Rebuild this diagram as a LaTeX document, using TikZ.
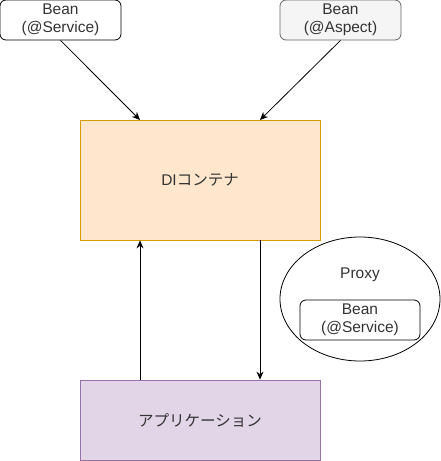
\documentclass[tikz,border=0pt]{standalone}
\usepackage{fontspec}
\setmainfont{Liberation Sans}
\newfontfamily\jpfont{Noto Sans CJK JP}
\usetikzlibrary{shapes.geometric,arrows.meta}
\definecolor{diFill}{HTML}{FFE6CC}
\definecolor{diLine}{HTML}{D79B00}
\definecolor{apFill}{HTML}{E1D5E7}
\definecolor{apLine}{HTML}{9673A6}
\definecolor{asFill}{HTML}{F5F5F5}
\definecolor{asLine}{HTML}{666666}
\definecolor{asText}{HTML}{333333}
\tikzset{
  every node/.style={line width=0.8pt},
  txt/.style={font=\fontsize{15.5}{18.5}\selectfont, text=black!80},
  bean/.style={txt, draw=black, rounded corners=6pt, minimum width=121pt, minimum height=40pt, inner sep=0pt, align=center},
  bigbox/.style={minimum width=240pt, inner sep=0pt, font=\fontsize{15.5}{18.5}\selectfont, text=black!80},
  conn/.style={-{Stealth[length=8pt,width=7pt]}, line width=0.8pt},
}
\begin{document}
\begin{tikzpicture}[x=1pt,y=-1pt]
\useasboundingbox (0,0) rectangle (441,461);
\node[bean] (svc) at (60.5,20) {Bean\\(@Service)};
\node[bean, fill=asFill, draw=asLine, text=asText] (asp) at (340.5,20) {Bean\\(@Aspect)};
\node[bigbox, draw=diLine, fill=diFill, minimum height=120pt] (di) at (200,180) {DI{\jpfont コンテナ}};
\node[bigbox, draw=apLine, fill=apFill, minimum height=80pt] (app) at (200,420) {\jpfont アプリケーション};
\node[ellipse, draw=black, minimum width=160pt, minimum height=124pt, inner sep=0pt] (proxy) at (360,299) {};
\node[txt] (ptxt) at (360,275) {Proxy};
\node[bean, minimum width=120pt] (inner) at (360,320) {Bean\\(@Service)};
\coordinate (diTL) at (140,120);
\coordinate (diTR) at (260,120);
\draw[conn] (svc.south) -- (140,120);
\draw[conn] (asp.south) -- (260,120);
\draw[conn] (app.north -| diTL) -- (di.south -| diTL);
\draw[conn] (di.south -| diTR) -- (app.north -| diTR);
\end{tikzpicture}
\end{document}
